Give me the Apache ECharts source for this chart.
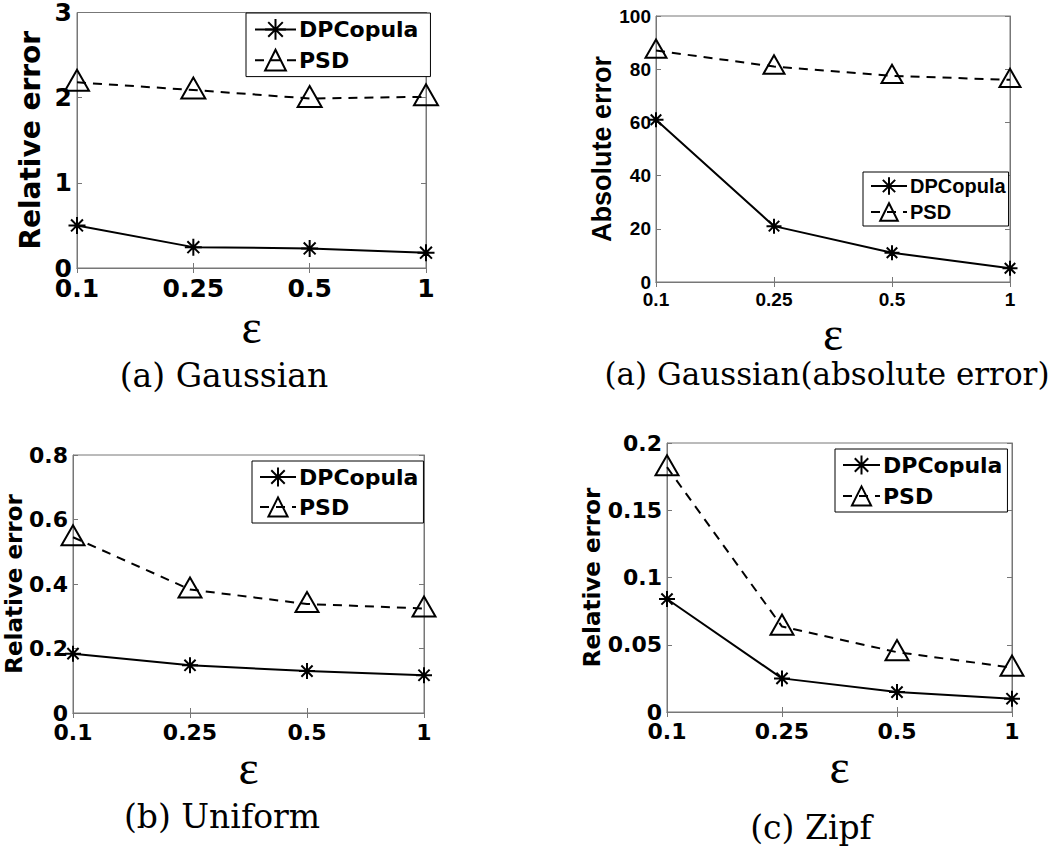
<!DOCTYPE html>
<html><head><meta charset="utf-8">
<script src="https://cdn.jsdelivr.net/npm/echarts@6/dist/echarts.min.js"></script>
<style>html,body{margin:0;padding:0;background:#fff;}#c{width:1050px;height:846px;}</style>
</head><body><div id="c"></div>
<script>
// ---------- data ----------
const epsilonLabels = ['0.1', '0.25', '0.5', '1'];
const seriesNames = ['DPCopula', 'PSD'];
const gaussianRelDPCopula = [0.50, 0.245, 0.23, 0.18];
const gaussianRelPSD = [2.18, 2.09, 1.99, 2.01];
const gaussianAbsDPCopula = [61, 21, 11, 5.2];
const gaussianAbsPSD = [87, 81, 77.5, 76];
const uniformDPCopula = [0.184, 0.148, 0.130, 0.117];
const uniformPSD = [0.545, 0.383, 0.338, 0.324];
const zipfDPCopula = [0.084, 0.025, 0.0148, 0.0099];
const zipfPSD = [0.182, 0.0635, 0.0445, 0.033];
const captions = ['(a) Gaussian', '(a) Gaussian(absolute error)', '(b) Uniform', '(c) Zipf'];
const yTitles = ['Relative error', 'Absolute error', 'Relative error', 'Relative error'];
const yMin = [0, 0, 0, 0];
const yMax = [3, 100, 0.8, 0.2];
const yStep = [1, 20, 0.2, 0.05];
const xTitle = 'ε';

// ---------- layout / style ----------
const STAR = 'path://M0,-10L0,10M-10,0L10,0M-7,-7L7,7M-7,7L7,-7';
const TRI = 'path://M0,0L12,21L-12,21Z';
const AX = '#777';
const panels = [
  { dp: gaussianRelDPCopula, psd: gaussianRelPSD,
    grid: { left: 77, top: 12, width: 349, height: 256 },
    tickFont: 'DejaVu Sans', tickSize: 25, titleFont: 'DejaVu Sans', titleSize: 28, titleGap: 33,
    epsGap: 34, star: 17, tri: 24,
    legend: { left: 246, top: 13, padding: [5, 12, 5, 8], itemWidth: 41, itemHeight: 26, itemGap: 8, font: 'DejaVu Sans', size: 22 },
    cap: { x: 224, y: 375, size: 33 } },
  { dp: gaussianAbsDPCopula, psd: gaussianAbsPSD,
    grid: { left: 656, top: 16, width: 354, height: 266 },
    tickFont: 'Liberation Sans', tickSize: 19, titleFont: 'Liberation Sans', titleSize: 27, titleGap: 38,
    epsGap: 26, star: 15, tri: 21,
    legend: { left: 863, top: 172, padding: [4, 3, 4, 7], itemWidth: 36, itemHeight: 22, itemGap: 6, font: 'Liberation Sans', size: 20 },
    cap: { x: 827, y: 374, size: 31 } },
  { dp: uniformDPCopula, psd: uniformPSD,
    grid: { left: 73, top: 455, width: 351, height: 258 },
    tickFont: 'DejaVu Sans', tickSize: 22, titleFont: 'DejaVu Sans', titleSize: 23, titleGap: 39,
    epsGap: 28, star: 16, tri: 23,
    legend: { left: 252, top: 461, padding: [5, 5, 5, 7], itemWidth: 36, itemHeight: 24, itemGap: 8, font: 'DejaVu Sans', size: 22 },
    cap: { x: 222, y: 816, size: 33 } },
  { dp: zipfDPCopula, psd: zipfPSD,
    grid: { left: 667, top: 443, width: 345, height: 269 },
    tickFont: 'DejaVu Sans', tickSize: 22, titleFont: 'DejaVu Sans', titleSize: 23, titleGap: 58,
    epsGap: 28, star: 16, tri: 23,
    legend: { left: 835, top: 449, padding: [5, 5, 5, 7], itemWidth: 37, itemHeight: 24, itemGap: 9, font: 'DejaVu Sans', size: 22 },
    cap: { x: 811, y: 827, size: 33 } }
];

const grid = [], xAxis = [], yAxis = [], series = [], legend = [], graphic = [];
panels.forEach((p, i) => {
  grid.push(Object.assign({ show: true, borderColor: AX, borderWidth: 1, backgroundColor: '#fff' }, p.grid));
  const labelStyle = { fontFamily: p.tickFont, fontWeight: 'bold', fontSize: p.tickSize, color: '#000' };
  const tick = { show: true, inside: true, length: 5, lineStyle: { color: AX, width: 1 } };
  xAxis.push({
    type: 'category', gridIndex: i, data: epsilonLabels, boundaryGap: false, position: 'bottom',
    axisLine: { show: true, lineStyle: { color: AX, width: 1 } },
    axisTick: tick, axisLabel: Object.assign({ margin: 8 }, labelStyle),
    splitLine: { show: false },
    name: xTitle, nameLocation: 'middle', nameGap: p.epsGap,
    nameTextStyle: { fontFamily: 'Liberation Serif', fontSize: 48, color: '#000' }
  });
  xAxis.push({
    type: 'category', gridIndex: i, data: epsilonLabels, boundaryGap: false, position: 'top',
    axisLine: { show: true, lineStyle: { color: AX, width: 1 } },
    axisTick: tick, axisLabel: { show: false }, splitLine: { show: false }
  });
  yAxis.push({
    type: 'value', gridIndex: i, min: yMin[i], max: yMax[i], interval: yStep[i], position: 'left',
    axisLine: { show: true, lineStyle: { color: AX, width: 1 } },
    axisTick: tick, axisLabel: Object.assign({ margin: 5 }, labelStyle),
    splitLine: { show: false },
    name: yTitles[i], nameLocation: 'middle', nameGap: p.titleGap,
    nameTextStyle: { fontFamily: p.titleFont, fontWeight: 'bold', fontSize: p.titleSize, color: '#000' }
  });
  yAxis.push({
    type: 'value', gridIndex: i, min: yMin[i], max: yMax[i], interval: yStep[i], position: 'right',
    axisLine: { show: true, lineStyle: { color: AX, width: 1 } },
    axisTick: tick, axisLabel: { show: false }, splitLine: { show: false }
  });
  const common = {
    type: 'line', xAxisIndex: i * 2, yAxisIndex: i * 2, symbolKeepAspect: true, showSymbol: true,
    animation: false, emphasis: { disabled: true }, silent: true, clip: false
  };
  series.push(Object.assign({}, common, {
    name: seriesNames[0], data: p.dp, symbol: STAR, symbolSize: p.star,
    lineStyle: { color: '#000', width: 2, type: 'solid' },
    itemStyle: { color: 'rgba(0,0,0,0)', borderColor: '#000', borderWidth: 2 }
  }));
  series.push(Object.assign({}, common, {
    name: seriesNames[1], data: p.psd, symbol: TRI, symbolSize: p.tri, symbolOffset: [0, -2],
    lineStyle: { color: '#000', width: 2, type: [9, 7] },
    itemStyle: { color: 'rgba(0,0,0,0)', borderColor: '#000', borderWidth: 2 }
  }));
  const L = p.legend;
  legend.push({
    orient: 'vertical', left: L.left, top: L.top, padding: L.padding,
    itemWidth: L.itemWidth, itemHeight: L.itemHeight, itemGap: L.itemGap, align: 'left',
    backgroundColor: '#fff', borderColor: '#000', borderWidth: 1, borderRadius: 0,
    data: seriesNames, selectedMode: false,
    itemStyle: { color: 'rgba(0,0,0,0)', borderColor: '#000', borderWidth: 2 },
    textStyle: { fontFamily: L.font, fontWeight: 'bold', fontSize: L.size, color: '#000', padding: [0, 0, 0, -2] }
  });
  graphic.push({
    type: 'text', x: p.cap.x, y: p.cap.y, silent: true,
    style: { text: captions[i], fontFamily: 'DejaVu Serif', fontSize: p.cap.size, fill: '#000',
             textAlign: 'center', textVerticalAlign: 'middle' }
  });
});

const chart = echarts.init(document.getElementById('c'), null, { renderer: 'svg' });
chart.setOption({ backgroundColor: '#fff', animation: false, grid, xAxis, yAxis, series, legend, graphic });
</script></body></html>
